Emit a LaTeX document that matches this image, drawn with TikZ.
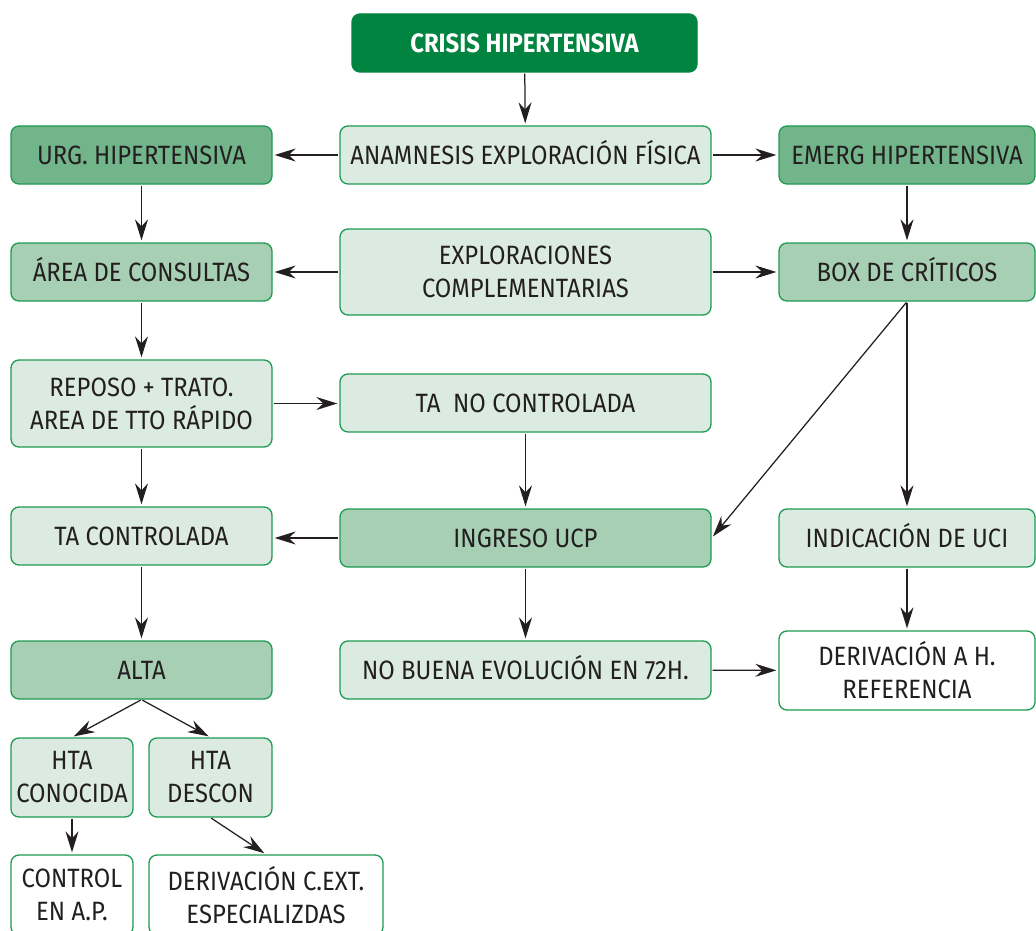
\documentclass[tikz,border=0pt]{standalone}
\usepackage{fontspec}
\setmainfont{Fira Sans}[FakeStretch=0.9]
\usetikzlibrary{arrows.meta}

\definecolor{gdark}{HTML}{00843F}
\definecolor{gmid}{HTML}{73B58B}
\definecolor{gsoft}{HTML}{A7CFB4}
\definecolor{glight}{HTML}{DCEBE1}
\definecolor{gline}{HTML}{1E9A52}
\definecolor{ink}{HTML}{231F20}

\tikzset{
  box/.style={draw=gline, line width=1.3pt, rounded corners=8pt, align=center,
    text=ink, inner sep=0pt, font=\fontsize{26.5}{33}\selectfont},
  one/.style={text height=18.5pt, text depth=0pt},
  title/.style={box, one, fill=gdark, draw=gdark, text=white, font=\fontsize{26.5}{33}\selectfont\bfseries},
  mid/.style={box, fill=gmid},
  soft/.style={box, fill=gsoft},
  light/.style={box, fill=glight},
  plain/.style={box, fill=white},
  arr/.style={draw=ink, line width=1.25pt, shorten >=2pt, shorten <=1pt,
    -{Stealth[length=21pt, width=13pt, inset=7pt]}},
}

\begin{document}
\begin{tikzpicture}[x=1pt, y=-1pt]
\useasboundingbox (0,0) rectangle (1036,931);

% top row
\node[title, minimum width=345pt, minimum height=58pt] (crisis) at (524.5,43) {CRISIS HIPERTENSIVA};
\node[light, one, minimum width=371pt, minimum height=58pt] (anam) at (525.5,155) {ANAMNESIS EXPLORACIÓN FÍSICA};
\node[mid, one, minimum width=261pt, minimum height=58pt] (urg) at (141.5,155) {URG. HIPERTENSIVA};
\node[mid, one, minimum width=256pt, minimum height=58pt] (emerg) at (907,155) {EMERG HIPERTENSIVA};

% second row
\node[soft, one, minimum width=261pt, minimum height=58pt] (area) at (141.5,272) {ÁREA DE CONSULTAS};
\node[light, minimum width=371pt, minimum height=86pt] (expl) at (525.5,272) {EXPLORACIONES\\COMPLEMENTARIAS};
\node[soft, one, minimum width=256pt, minimum height=58pt] (box) at (907,272) {BOX DE CRÍTICOS};

% third row
\node[light, minimum width=261pt, minimum height=87pt] (reposo) at (141.5,403.5) {REPOSO + TRATO.\\AREA DE TTO RÁPIDO};
\node[light, one, minimum width=371pt, minimum height=58pt] (tanc) at (525.5,403) {TA\ \ NO CONTROLADA};

% fourth row
\node[light, one, minimum width=261pt, minimum height=58pt] (tac) at (141.5,536) {TA CONTROLADA};
\node[soft, one, minimum width=371pt, minimum height=58pt] (ingreso) at (525.5,538) {INGRESO UCP};
\node[light, one, minimum width=256pt, minimum height=58pt] (uci) at (907,538) {INDICACIÓN DE UCI};

% fifth row
\node[soft, one, minimum width=261pt, minimum height=58pt] (alta) at (141.5,670) {ALTA};
\node[light, one, minimum width=371pt, minimum height=58pt] (nobuena) at (525.5,670) {NO BUENA EVOLUCIÓN EN 72H.};
\node[plain, minimum width=256pt, minimum height=79pt] (derh) at (907,670.5) {DERIVACIÓN A H.\\REFERENCIA};

% lower left branch
\node[light, minimum width=122pt, minimum height=79pt] (htac) at (72,777.5) {HTA\\CONOCIDA};
\node[light, minimum width=123pt, minimum height=79pt] (htad) at (210.5,777.5) {HTA\\DESCON};
\node[plain, minimum width=122pt, minimum height=80pt] (control) at (72,895) {CONTROL\\EN A.P.};
\node[plain, minimum width=234pt, minimum height=80pt] (derc) at (266,895) {DERIVACIÓN C.EXT.\\ESPECIALIZDAS};

% connectors
\draw[arr] (crisis) -- (anam);
\draw[arr] (anam) -- (urg);
\draw[arr] (anam) -- (emerg);
\draw[arr] (urg) -- (area);
\draw[arr] (emerg) -- (box);
\draw[arr] (expl) -- (area);
\draw[arr] (expl) -- (box);
\draw[arr] (area) -- (reposo);
\draw[arr] (reposo.east) -- (reposo.east -| tanc.west);
\draw[arr] (tanc) -- (ingreso);
\draw[arr] (reposo) -- (tac);
\draw[arr] (ingreso.west) -- (ingreso.west -| tac.east);
\draw[arr] (box.south) -- (ingreso.east);
\draw[arr] (box.south) -- (uci.north);
\draw[arr] (tac) -- (alta);
\draw[arr] (ingreso) -- (nobuena);
\draw[arr] (uci) -- (derh);
\draw[arr] (nobuena) -- (derh);
\draw[arr] (alta.south) -- (htac.north);
\draw[arr] (alta.south) -- (htad.north);
\draw[arr] (htac) -- (control);
\draw[arr] (htad.south) -- (derc.north);
\end{tikzpicture}
\end{document}
